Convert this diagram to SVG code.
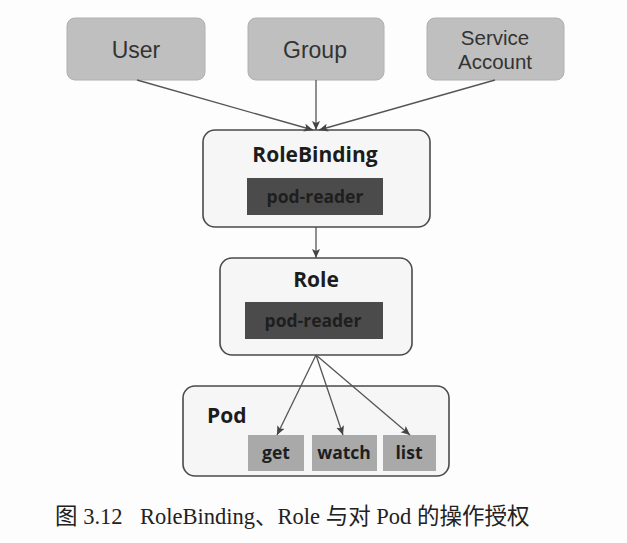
<svg xmlns="http://www.w3.org/2000/svg" width="627" height="543" viewBox="0 0 627 543">
<style>
.src rect{fill:#bfbfbf;stroke:#b0b0b0;stroke-width:1}
.src text{font-family:"Liberation Sans",Arial,sans-serif;font-size:23px;fill:#333;text-anchor:middle}
.src text.two{font-size:20.5px}
.cont{fill:#f6f6f6;stroke:#4a4a4a;stroke-width:1.6}
.title{font-family:"Open Sans","Noto Sans",sans-serif;font-weight:bold;font-size:21px;fill:#1c1c1c}
.dark{fill:#4b4b4b}
.darkt{font-family:"Open Sans","Noto Sans",sans-serif;font-weight:bold;font-size:17.5px;fill:#1e1e1e;text-anchor:middle}
.op{fill:#a9a9a9}
.opt{font-family:"Open Sans","Noto Sans",sans-serif;font-weight:bold;font-size:17.5px;fill:#1e1e1e;text-anchor:middle}
.conn line{stroke:#555;stroke-width:1.3;fill:none;marker-end:url(#ah)}
.cap{font-family:"Liberation Serif","Times New Roman","Noto Sans CJK SC",serif;font-size:22.5px;fill:#222}
</style>
<defs>
<marker id="ah" markerUnits="userSpaceOnUse" markerWidth="10" markerHeight="10" refX="9" refY="5" orient="auto">
<path d="M0,1 L9,5 L0,9 L2,5 Z" fill="#444"/>
</marker>
</defs>
<rect width="627" height="543" fill="#fdfdfd"/>
<g id="user" class="src"><rect x="67" y="18" width="138" height="62" rx="8"/><text x="136" y="58">User</text></g>
<g id="group" class="src"><rect x="248" y="18" width="136" height="62" rx="8"/><text x="315" y="58">Group</text></g>
<g id="serviceaccount" class="src"><rect x="427" y="18" width="137" height="62" rx="8"/><text class="two" x="495" y="45">Service</text><text class="two" x="495" y="69">Account</text></g>
<g id="rolebinding">
<rect class="cont" x="203" y="130" width="227" height="97" rx="12"/>
<text class="title" x="315" y="162" text-anchor="middle">RoleBinding</text>
<rect class="dark" x="247" y="178" width="136" height="37"/>
<text class="darkt" x="315" y="203">pod-reader</text>
</g>
<g id="role">
<rect class="cont" x="220" y="258" width="192" height="97" rx="12"/>
<text class="title" x="316" y="287" text-anchor="middle">Role</text>
<rect class="dark" x="245" y="302" width="138" height="37"/>
<text class="darkt" x="313" y="327">pod-reader</text>
</g>
<g id="pod">
<rect class="cont" x="183" y="386" width="266" height="90" rx="12"/>
<text class="title" x="207" y="423">Pod</text>
<rect class="op" x="248" y="435" width="56" height="36"/><text class="opt" x="276" y="459">get</text>
<rect class="op" x="312" y="435" width="65" height="36"/><text class="opt" x="344" y="459">watch</text>
<rect class="op" x="383" y="435" width="53" height="36"/><text class="opt" x="409" y="459">list</text>
</g>
<g id="connectors" class="conn">
<line x1="137" y1="80" x2="313" y2="130"/>
<line x1="316" y1="80" x2="316" y2="130"/>
<line x1="495" y1="80" x2="319" y2="130"/>
<line x1="316" y1="227" x2="316" y2="258"/>
<line x1="316" y1="355" x2="277" y2="435"/>
<line x1="316" y1="355" x2="343" y2="435"/>
<line x1="316" y1="355" x2="410" y2="435"/>
</g>
<text class="cap" x="55" y="524">图 3.12<tspan x="140">RoleBinding、Role 与对 Pod 的操作授权</tspan></text>
</svg>
